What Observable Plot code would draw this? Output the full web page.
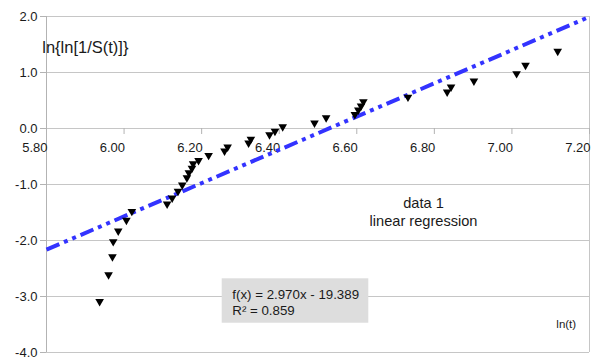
<!DOCTYPE html>
<html>
<head>
<meta charset="utf-8">
<script src="https://cdn.jsdelivr.net/npm/d3@7"></script>
<script src="https://cdn.jsdelivr.net/npm/@observablehq/plot@0.6"></script>
<style>
  html, body { margin: 0; padding: 0; background: white; }
  svg { display: block; }
</style>
</head>
<body>
<div id="chart"></div>
<script>
const lnT = [5.937, 5.960, 5.970, 5.972, 5.985, 6.006, 6.020, 6.111, 6.124, 6.139,
             6.150, 6.162, 6.167, 6.175, 6.178, 6.192, 6.218, 6.259, 6.267, 6.321,
             6.327, 6.375, 6.389, 6.409, 6.491, 6.521, 6.595, 6.604, 6.611, 6.617,
             6.732, 6.833, 6.843, 6.902, 7.012, 7.035, 7.118];
const lnLnS = [-3.09, -2.61, -2.29, -2.02, -1.83, -1.64, -1.48, -1.35, -1.24, -1.12,
               -1.01, -0.88, -0.79, -0.71, -0.63, -0.57, -0.48, -0.40, -0.33, -0.26,
               -0.19, -0.11, -0.05, 0.03, 0.10, 0.19, 0.25, 0.33, 0.40, 0.48,
               0.56, 0.65, 0.74, 0.85, 0.98, 1.13, 1.38];
const regX = [5.8, 7.2];
const regY = [-2.163, 1.995];
const xTicks = [5.8, 6.0, 6.2, 6.4, 6.6, 6.8, 7.0, 7.2];
const yTicks = [-4, -3, -2, -1, 0, 1, 2];
const legendLabels = ["data 1", "linear regression"];
const equationLines = ["f(x) = 2.970x - 19.389", "R\u00b2 = 0.859"];
const yTitle = "ln{ln[1/S(t)]}";
const xTitle = "ln(t)";

const points = lnT.map((x, i) => ({x, y: lnLnS[i]}));
const reg = regX.map((x, i) => ({x, y: regY[i]}));

const grid = "#c6c6c6";
const axisCol = "#b3b3b3";
const textCol = "#1a1a1a";

const chart = Plot.plot({
  width: 592,
  height: 361,
  marginLeft: 46,
  marginRight: 3,
  marginTop: 16,
  marginBottom: 9,
  style: {fontFamily: "'Liberation Sans', Arial, sans-serif", fontSize: "13px", background: "white", overflow: "visible"},
  x: {domain: [5.8, 7.2], axis: null},
  y: {domain: [-4, 2], axis: null},
  marks: [
    Plot.ruleY(yTicks, {y: d => d, stroke: grid}),
    Plot.ruleX([5.8], {stroke: axisCol}),
    Plot.ruleX([7.2], {stroke: grid}),
    // y ticks
    Plot.ruleY(yTicks, {y: d => d, x1: 5.8, x2: 5.8, insetLeft: -6, stroke: axisCol}),
    Plot.text(yTicks, {x: 5.8, y: d => d, text: d => d.toFixed(1), textAnchor: "end", dx: -9, fill: textCol, fontSize: 13}),
    // x ticks on the zero line
    Plot.ruleX(xTicks, {x: d => d, y1: 0, y2: 0, insetBottom: -6, stroke: axisCol}),
    Plot.text(xTicks, {x: d => d, y: 0, text: d => d.toFixed(2), textAnchor: "end", dx: 1, dy: 19, fill: textCol, fontSize: 13}),
    // regression line
    Plot.line(reg, {x: "x", y: "y", stroke: "#3333ff", strokeWidth: 4, strokeDasharray: "14,5,4,5,4,5", strokeLinecap: "butt"}),
    // data
    Plot.dot(points, {x: "x", y: "y", symbol: "triangle", r: 3.2, rotate: 180, fill: "black", stroke: "none"}),
    // legend
    Plot.text([legendLabels.join("\n")], {x: 6.772, y: -1.471, text: d => d, textAnchor: "middle", lineHeight: 1.25, fill: textCol, fontSize: 14.6}),
    // equation box
    Plot.rect([0], {x1: 6.253, x2: 6.631, y1: -2.684, y2: -3.477, fill: "#dddddd"}),
    Plot.text([equationLines.join("\n")], {x: 6.279, y: -3.093, text: d => d, textAnchor: "start", lineHeight: 1.23, fill: textCol, fontSize: 13.3}),
    // titles
    Plot.text([yTitle], {x: 5.789, y: 1.446, text: d => d, textAnchor: "start", fill: textCol, fontSize: 16.5}),
    Plot.text([xTitle], {x: 7.140, y: -3.488, text: d => d, textAnchor: "middle", fill: textCol, fontSize: 11.5})
  ]
});
document.getElementById("chart").appendChild(chart);
</script>
</body>
</html>
